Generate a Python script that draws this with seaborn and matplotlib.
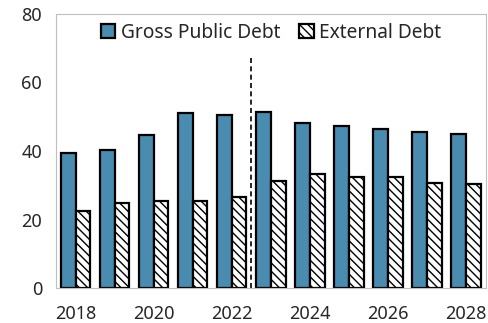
import pandas as pd
import seaborn as sns
import matplotlib.pyplot as plt
from matplotlib.patches import Patch

# values (percent of GDP)
years = ['2018', '2019', '2020', '2021', '2022', '2023', '2024', '2025', '2026', '2027', '2028']
gross_debt = [39.5, 40.3, 44.8, 51.2, 50.5, 51.3, 48.2, 47.2, 46.3, 45.6, 45.1]
external_debt = [22.5, 24.7, 25.4, 25.4, 26.6, 31.3, 33.4, 32.5, 32.5, 30.7, 30.3]
series = ['Gross Public Debt', 'External Debt']
colors = ['#4a8bb0', 'white']

df = pd.DataFrame({'year': years * 2,
	'value': gross_debt + external_debt,
	'series': [series[0]] * len(years) + [series[1]] * len(years)})

sns.set_style('white')
plt.rcParams['font.family'] = ['Noto Sans', 'DejaVu Sans']
plt.rcParams['hatch.linewidth'] = 1.0

fig = plt.figure(figsize=(4.88, 3.23), dpi=100)
ax = fig.add_axes([0.115, 0.108, 0.881, 0.849])
sns.barplot(data=df, x='year', y='value', hue='series', palette=colors, saturation=1,
	width=0.75, edgecolor='black', linewidth=1.6, ax=ax, legend=False)

for bar in ax.containers[1]:
	bar.set_hatch('\\\\\\\\')

ax.axvline(4.5, ymin=0, ymax=67.5 / 80, color='black', linestyle=(0, (3, 2)), linewidth=1.2)

ax.set_ylim(0, 80)
ax.set_xlim(-0.49, 10.51)
ax.set_yticks([0, 20, 40, 60, 80])
ax.set_xticks(range(0, 11, 2))
ax.set_xticklabels(years[::2])
ax.set_xticks([i + 0.5 for i in range(-1, 11)], minor=True)
ax.set_xlabel('')
ax.set_ylabel('')
ax.tick_params(axis='y', direction='in', length=5, color='#bfbfbf', labelsize=13,
	labelcolor='#262626', pad=10)
ax.tick_params(axis='x', which='major', length=0, labelsize=13, labelcolor='#262626', pad=12)
ax.tick_params(axis='x', which='minor', direction='in', length=5, color='#bfbfbf')
for s in ax.spines.values():
	s.set_color('#bfbfbf')
	s.set_linewidth(0.8)

handles = [Patch(facecolor=colors[0], edgecolor='black', linewidth=1.6),
	Patch(facecolor='white', edgecolor='black', linewidth=1.6, hatch='\\\\\\\\')]
ax.legend(handles, series, loc='upper center', bbox_to_anchor=(0.5, 1.03), ncol=2,
	frameon=False, fontsize=13.8, handlelength=0.75, handleheight=0.75,
	handletextpad=0.3, columnspacing=1.0, labelcolor='#262626')

fig.savefig('out.png', dpi=100)
